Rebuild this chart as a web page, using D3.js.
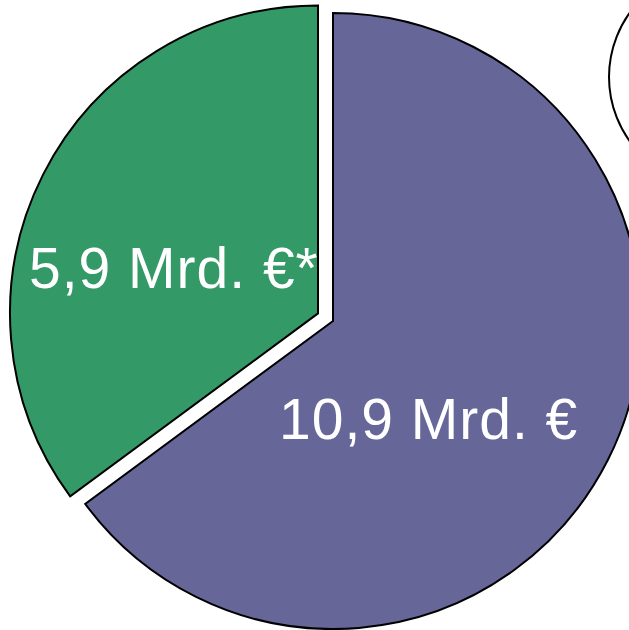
<!DOCTYPE html>
<html>
<head>
<meta charset="utf-8">
<script src="https://cdn.jsdelivr.net/npm/d3@7"></script>
<style>
  html, body { margin: 0; padding: 0; background: #fff; }
  svg { display: block; }
</style>
</head>
<body>
<svg id="chart" width="629" height="630"></svg>
<script>
const categories = ["Rest", "Anteil"];
const values = [10.9, 5.9];
const labels = ["10,9 Mrd. €", "5,9 Mrd. €*"];
const colors = ["#666699", "#339966"];

const svg = d3.select("#chart");
const cx = 333, cy = 321, R = 308;
const explode = [0, 16.8];
const labelPos = [[279, 439], [29, 288]];

const pie = d3.pie().sort(null).startAngle(0).endAngle(2 * Math.PI);
const arcs = pie(values);
const arc = d3.arc().innerRadius(0).outerRadius(R);

const defs = svg.append("defs");
const g = svg.append("g").attr("transform", `translate(${cx},${cy})`);

arcs.forEach((a, i) => {
  const mid = (a.startAngle + a.endAngle) / 2;
  const dx = Math.sin(mid) * explode[i];
  const dy = -Math.cos(mid) * explode[i];
  const sg = g.append("g").attr("transform", `translate(${dx},${dy})`);
  defs.append("clipPath").attr("id", "clip" + i)
    .append("path").attr("d", arc(a));
  sg.append("path")
    .attr("d", arc(a))
    .attr("fill", colors[i])
    .attr("stroke", "#000")
    .attr("stroke-width", 2)
    .attr("stroke-linejoin", "miter");
  sg.append("text")
    .attr("clip-path", `url(#clip${i})`)
    .attr("x", labelPos[i][0] - cx - dx)
    .attr("y", labelPos[i][1] - cy - dy)
    .attr("fill", "#fff")
    .attr("font-family", "'Liberation Sans', Arial, sans-serif")
    .attr("font-size", 57)
    .attr("letter-spacing", 1)
    .text(labels[i]);
});

// partial callout circle at top right
svg.append("circle")
  .attr("cx", 719).attr("cy", 77).attr("r", 110)
  .attr("fill", "none").attr("stroke", "#000").attr("stroke-width", 2);
</script>
</body>
</html>
